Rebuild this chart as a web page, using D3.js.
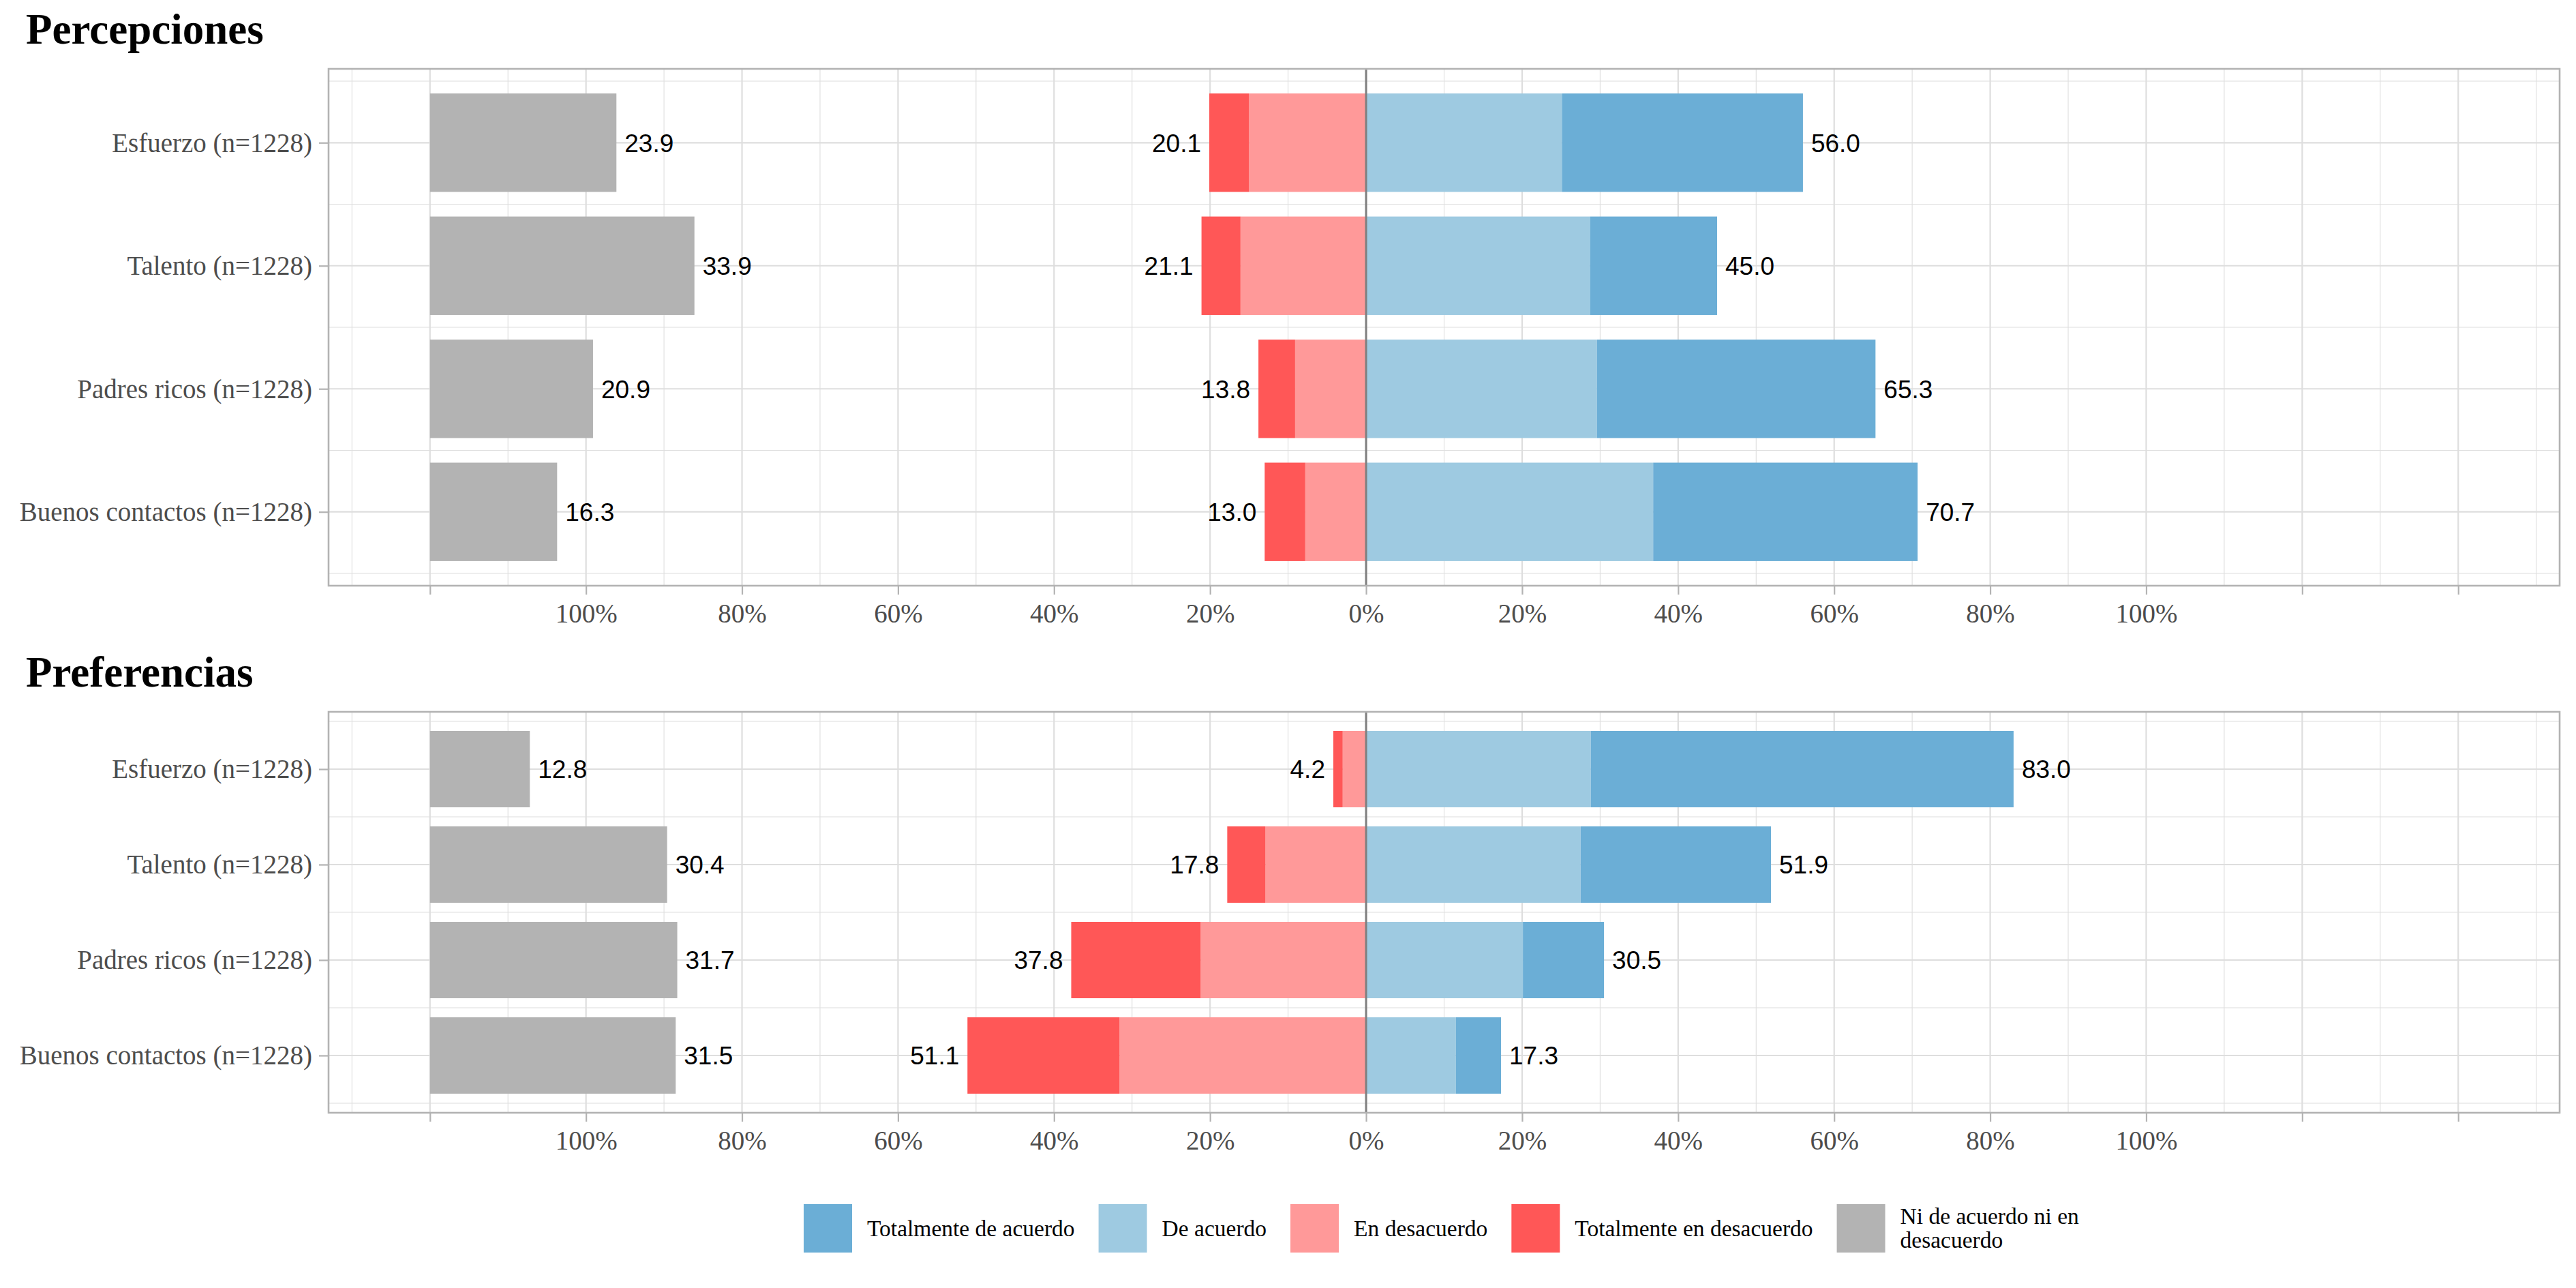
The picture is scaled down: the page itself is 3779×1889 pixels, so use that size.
<!DOCTYPE html>
<html><head><meta charset="utf-8">
<script src="https://cdn.jsdelivr.net/npm/d3@7"></script>
<style>body{margin:0;background:#fff} svg{display:block}</style>
</head><body>
<script>
// ---------- data ----------
const categories = ["Esfuerzo (n=1228)", "Talento (n=1228)", "Padres ricos (n=1228)", "Buenos contactos (n=1228)"];
const panelTitles = ["Percepciones", "Preferencias"];

// Percepciones
const percTotDes  = [5.1, 5.0, 4.7, 5.2];
const percDes     = [15.0, 16.1, 9.1, 7.8];
const percAc      = [25.1, 28.7, 29.6, 36.8];
const percTotAc   = [30.9, 16.3, 35.7, 33.9];
const percNeutral = [23.9, 33.9, 20.9, 16.3];

// Preferencias
const prefTotDes  = [1.2, 4.9, 16.6, 19.5];
const prefDes     = [3.0, 12.9, 21.2, 31.6];
const prefAc      = [28.8, 27.5, 20.1, 11.5];
const prefTotAc   = [54.2, 24.4, 10.4, 5.8];
const prefNeutral = [12.8, 30.4, 31.7, 31.5];

const tickValues = [-120, -100, -80, -60, -40, -20, 0, 20, 40, 60, 80, 100, 120, 140];
const legendLabels = ["Totalmente de acuerdo", "De acuerdo", "En desacuerdo", "Totalmente en desacuerdo", "Ni de acuerdo ni en desacuerdo"];

// ---------- styles ----------
const colTotAc = "#6BAED6", colAc = "#9ECAE1", colDes = "#FF9999", colTotDes = "#FF5757", colNeutral = "#B3B3B3";
const legendColors = [colTotAc, colAc, colDes, colTotDes, colNeutral];
const serif = "'Liberation Serif', 'Times New Roman', serif";
const sans = "'Liberation Sans', Arial, sans-serif";

const W = 3779, H = 1889;
const svg = d3.select("body").append("svg").attr("width", W).attr("height", H);
svg.append("rect").attr("width", W).attr("height", H).attr("fill", "#fff");

const x = d3.scaleLinear().domain([-133, 153]).range([482, 3755]);

const panels = [
  {title: panelTitles[0], top: 101, bottom: 859, td: percTotDes, d: percDes, a: percAc, ta: percTotAc, n: percNeutral},
  {title: panelTitles[1], top: 1044, bottom: 1632, td: prefTotDes, d: prefDes, a: prefAc, ta: prefTotAc, n: prefNeutral}
];

panels.forEach(p => {
  const y = d3.scaleLinear().domain([0.4, 4.6]).range([p.top, p.bottom]);
  const g = svg.append("g");

  // title
  svg.append("text").attr("x", 38).attr("y", p.top - 37)
    .attr("font-family", serif).attr("font-weight", "bold").attr("font-size", 63)
    .attr("fill", "#000").text(p.title);

  // grid
  const minorX = d3.range(-130, 151, 20);
  g.selectAll(".mx").data(minorX).join("line")
    .attr("x1", d => x(d)).attr("x2", d => x(d)).attr("y1", p.top).attr("y2", p.bottom)
    .attr("stroke", "#DEDEDE").attr("stroke-width", 1.1);
  g.selectAll(".my").data([0.5, 1.5, 2.5, 3.5, 4.5]).join("line")
    .attr("x1", x.range()[0]).attr("x2", x.range()[1]).attr("y1", d => y(d)).attr("y2", d => y(d))
    .attr("stroke", "#DEDEDE").attr("stroke-width", 1.1);
  g.selectAll(".MX").data(tickValues).join("line")
    .attr("x1", d => x(d)).attr("x2", d => x(d)).attr("y1", p.top).attr("y2", p.bottom)
    .attr("stroke", "#DEDEDE").attr("stroke-width", 2.2);
  g.selectAll(".MY").data([1, 2, 3, 4]).join("line")
    .attr("x1", x.range()[0]).attr("x2", x.range()[1]).attr("y1", d => y(d)).attr("y2", d => y(d))
    .attr("stroke", "#DEDEDE").attr("stroke-width", 2.2);

  // segments
  const segs = [];
  categories.forEach((c, i) => {
    const k = i + 1;
    segs.push({k, x0: -(p.d[i]), x1: 0, col: colDes});
    segs.push({k, x0: -(p.d[i] + p.td[i]), x1: -(p.d[i]), col: colTotDes});
    segs.push({k, x0: 0, x1: p.a[i], col: colAc});
    segs.push({k, x0: p.a[i], x1: p.a[i] + p.ta[i], col: colTotAc});
    segs.push({k, x0: -120, x1: -120 + p.n[i], col: colNeutral});
  });
  g.selectAll(".seg").data(segs).join("rect")
    .attr("x", d => x(d.x0)).attr("width", d => x(d.x1) - x(d.x0))
    .attr("y", d => y(d.k - 0.4)).attr("height", d => y(d.k + 0.4) - y(d.k - 0.4))
    .attr("fill", d => d.col);

  // value labels
  const labels = [];
  categories.forEach((c, i) => {
    const k = i + 1;
    const neg = p.d[i] + p.td[i], pos = p.a[i] + p.ta[i];
    labels.push({k, px: x(-neg) - 12, anchor: "end", txt: neg.toFixed(1)});
    labels.push({k, px: x(pos) + 12, anchor: "start", txt: pos.toFixed(1)});
    labels.push({k, px: x(-120 + p.n[i]) + 12, anchor: "start", txt: p.n[i].toFixed(1)});
  });
  g.selectAll(".lab").data(labels).join("text")
    .attr("x", d => d.px).attr("y", d => y(d.k)).attr("dy", "0.36em")
    .attr("text-anchor", d => d.anchor)
    .attr("font-family", sans).attr("font-size", 37).attr("fill", "#000")
    .text(d => d.txt);

  // zero line
  g.append("line").attr("x1", x(0)).attr("x2", x(0)).attr("y1", p.top).attr("y2", p.bottom)
    .attr("stroke", "#7F7F7F").attr("stroke-width", 3);

  // axes
  const xAxis = d3.axisBottom(x).tickValues(tickValues)
    .tickFormat(v => Math.abs(v) <= 100 ? Math.abs(v) + "%" : "")
    .tickSize(13).tickPadding(13);
  const ax = g.append("g").attr("transform", `translate(0,${p.bottom})`).call(xAxis);
  ax.select(".domain").remove();
  ax.selectAll(".tick line").attr("stroke", "#B3B3B3").attr("stroke-width", 2.2);
  ax.selectAll(".tick text").attr("font-family", serif).attr("font-size", 39).attr("fill", "#4D4D4D");

  const yAxis = d3.axisLeft(y).tickValues([1, 2, 3, 4])
    .tickFormat(k => categories[k - 1]).tickSize(14).tickPadding(10);
  const ay = g.append("g").attr("transform", `translate(${x.range()[0]},0)`).call(yAxis);
  ay.select(".domain").remove();
  ay.selectAll(".tick line").attr("stroke", "#B3B3B3").attr("stroke-width", 2.2);
  ay.selectAll(".tick text").attr("font-family", serif).attr("font-size", 39).attr("fill", "#4D4D4D").attr("dy", "0.33em");

  // border
  g.append("rect").attr("x", x.range()[0]).attr("y", p.top)
    .attr("width", x.range()[1] - x.range()[0]).attr("height", p.bottom - p.top)
    .attr("fill", "none").attr("stroke", "#B3B3B3").attr("stroke-width", 2.6);
});

// legend
const lg = svg.append("g");
let lx = 1179;
const keyTop = 1766, keySize = 71;
legendLabels.forEach((lab, i) => {
  lg.append("rect").attr("x", lx).attr("y", keyTop).attr("width", keySize).attr("height", keySize)
    .attr("fill", legendColors[i]);
  const lines = lab === "Ni de acuerdo ni en desacuerdo" ? ["Ni de acuerdo ni en", "desacuerdo"] : [lab];
  const t = lg.append("text").attr("font-family", serif).attr("font-size", 33.5).attr("fill", "#000");
  const cy = keyTop + keySize / 2;
  lines.forEach((ln, j) => {
    const off = (j - (lines.length - 1) / 2) * 35;
    t.append("tspan").attr("x", lx + keySize + 22).attr("y", cy + off).attr("dy", "0.33em").text(ln);
  });
  let w = 0;
  t.selectAll("tspan").each(function() { w = Math.max(w, this.getComputedTextLength()); });
  lx += keySize + 22 + w + 35;
});
</script>
</body></html>
